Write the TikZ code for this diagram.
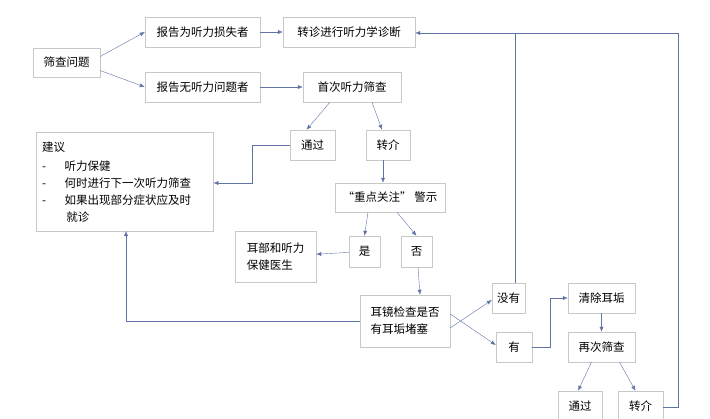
\documentclass[tikz,border=0pt]{standalone}
\usepackage{fontspec}
\setmainfont{Noto Sans CJK SC}
\usetikzlibrary{arrows.meta}
\definecolor{lnk}{RGB}{95,115,165}
\definecolor{frm}{RGB}{200,200,200}
\begin{document}
\begin{tikzpicture}[x=1pt,y=-1pt,
    box/.style={draw=frm,inner sep=0pt,font=\fontsize{11.5}{17}\selectfont,align=left},
    arr/.style={draw=lnk,-{Latex[length=5pt,width=4pt]}},
    ln/.style={draw=lnk}]
        % Fix the page size
        \useasboundingbox (0,0) rectangle (710,418);

        % Define the boxes (centre, width, height in px)
        \node[box,minimum width=67,minimum height=29] (Q)  at (66.5,62.5)  {筛查问题};
        \node[box,minimum width=115,minimum height=30] (R1) at (202.5,32) {报告为听力损失者};
        \node[box,minimum width=132,minimum height=30] (D)  at (349,32)   {转诊进行听力学诊断};
        \node[box,minimum width=115,minimum height=30] (R2) at (202.5,87) {报告无听力问题者};
        \node[box,minimum width=98,minimum height=30]  (S1) at (352,87)   {首次听力筛查};
        \node[box,minimum width=45,minimum height=30]  (P1) at (312.5,145) {通过};
        \node[box,minimum width=44,minimum height=30]  (F1) at (388,145)   {转介};
        \node[box,minimum width=177,minimum height=99,anchor=north west,inner sep=6pt,text width=165]
            (A) at (36,132) {建议\\[2pt]
            -\hspace{1.6em}听力保健\\
            -\hspace{1.6em}何时进行下一次听力筛查\\
            -\hspace{1.6em}如果出现部分症状应及时\\
            \hspace{2.1em}就诊};
        \node[box,minimum width=110,minimum height=29] (W)  at (390,197.5) {“重点关注” 警示};
        \node[box,minimum width=81,minimum height=51]  (E)  at (275.5,256.5) {耳部和听力\\保健医生};
        \node[box,minimum width=31,minimum height=31]  (Y)  at (364.5,251.5) {是};
        \node[box,minimum width=31,minimum height=31]  (N)  at (416.5,251.5) {否};
        \node[box,minimum width=90,minimum height=52]  (O)  at (405,321)   {耳镜检查是否\\有耳垢堵塞};
        \node[box,minimum width=33,minimum height=30]  (No) at (508.5,298) {没有};
        \node[box,minimum width=36,minimum height=30]  (Ha) at (514,347)   {有};
        \node[box,minimum width=67,minimum height=30]  (C)  at (601.5,298) {清除耳垢};
        \node[box,minimum width=67,minimum height=30]  (S2) at (601.5,347) {再次筛查};
        \node[box,minimum width=44,minimum height=30]  (P2) at (580,406)   {通过};
        \node[box,minimum width=45,minimum height=30]  (F2) at (640.5,406) {转介};

        % Turning points
        \coordinate (K1) at (678,407);
        \coordinate (K2) at (678,33);
        \coordinate (K3) at (515,33);

        % Draw the connectors
        \draw[arr] (Q.east) ++(0,-6) -- (R1.west);
        \draw[arr] (Q.east) ++(0,8) -- (R2.west);
        \draw[arr] (R1) -- (D);
        \draw[arr] (R2) -- (S1);
        \draw[arr] ([xshift=-22]S1.south) -- ([xshift=-6]P1.north);
        \draw[arr] ([xshift=20]S1.south) -- ([xshift=-6]F1.north);
        \draw[arr] (P1.west) -- ++(-38,0) |- (A.east |- 0,183);
        \draw[arr] (F1.south) ++(-5,0) -- ([xshift=-7]W.north);
        \draw[arr] ([xshift=-22]W.south) -- (Y.north);
        \draw[arr] ([xshift=7]W.south) -- (N.north);
        \draw[arr] (Y) -- (E);
        \draw[arr] (N.south) ++(1.5,0) -- ([xshift=15]O.north);
        \draw[arr] (O.west) -| (126,231);
        \draw[arr] ([yshift=-7]O.east) -- ([yshift=-2]No.west);
        \draw[arr] ([yshift=7]O.east) -- ([yshift=2]Ha.west);
        \draw[arr] (Ha.east) -- ++(18,0) |- (C.west);
        \draw[arr] (C) -- (S2);
        \draw[arr] ([xshift=-10]S2.south) -- ([xshift=-2]P2.north);
        \draw[arr] ([xshift=18]S2.south) -- ([xshift=-5]F2.north);
        \draw[ln] (F2.east |- K1) -- (K1) -- (K2);
        \draw[ln] (No.north -| K3) -- (K3);
        \draw[arr] (K2) -- (D.east |- K2);
\end{tikzpicture}
\end{document}
